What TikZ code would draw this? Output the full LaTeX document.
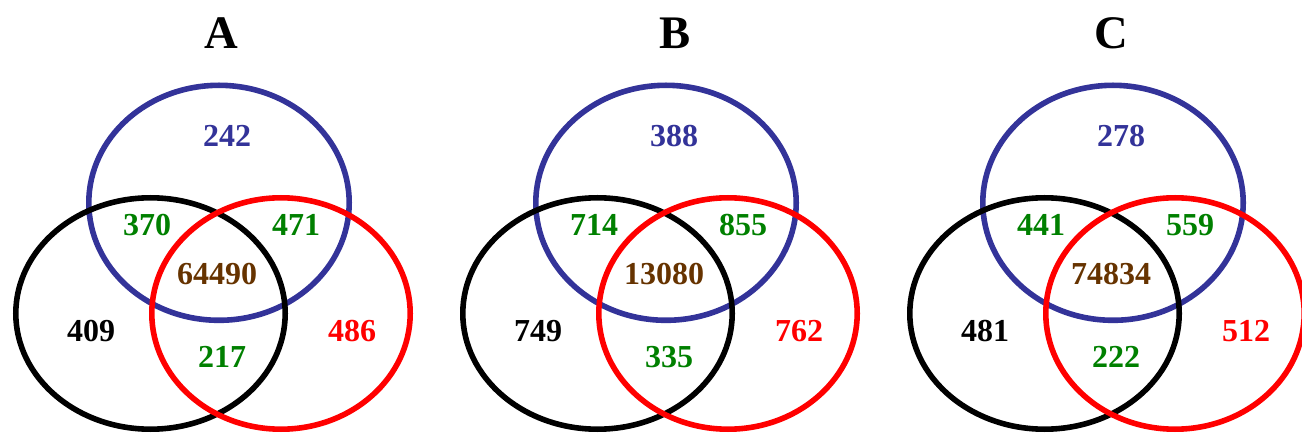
\documentclass[tikz,border=0pt]{standalone}
\usepackage{fontspec}
\setmainfont{Liberation Serif}
\definecolor{setblue}{HTML}{333399}
\definecolor{setgreen}{HTML}{008000}
\definecolor{setbrown}{HTML}{663300}
\definecolor{setred}{HTML}{FF0000}
\begin{document}
\begin{tikzpicture}[x=0.75pt,y=-0.75pt,
  ring/.style={line width=4.2pt},
  num/.style={font=\fontsize{24pt}{24pt}\selectfont\bfseries, anchor=base, inner sep=0pt},
  paneltitle/.style={font=\fontsize{35pt}{35pt}\selectfont\bfseries, anchor=base, inner sep=0pt}]
\useasboundingbox (0,0) rectangle (1302,434);

% one three-set diagram: #1 = horizontal offset, #2 = name prefix, #3..#9 = counts
\newcommand{\venntriple}[9]{%
  \begin{scope}[xshift=#1*0.75pt]
    \draw[ring, setblue]  (219,202.8) ellipse [x radius=130.2, y radius=117.5];
    \draw[ring, black]    (150.5,313.5) ellipse [x radius=134.7, y radius=115.7];
    \draw[ring, setred]   (281,313.5) ellipse [x radius=129.2, y radius=115.7];
    \node[num, setblue]  (#2top)    at (227,147) {#3};
    \node[num, setgreen] (#2tl)     at (147,236) {#4};
    \node[num, setgreen] (#2tr)     at (296,236) {#5};
    \node[num, setbrown] (#2mid)    at (217,285) {#6};
    \node[num, black]    (#2left)   at (91,342)  {#7};
    \node[num, setgreen] (#2bottom) at (222,368) {#8};
    \node[num, setred]   (#2right)  at (352,342) {#9};
  \end{scope}}

\venntriple{0}{a}{242}{370}{471}{64490}{409}{217}{486}
\venntriple{447}{b}{388}{714}{855}{13080}{749}{335}{762}
\venntriple{894}{c}{278}{441}{559}{74834}{481}{222}{512}

\node[paneltitle] (titleA) at (221,49)  {A};
\node[paneltitle] (titleB) at (675,49)  {B};
\node[paneltitle] (titleC) at (1111,49) {C};
\end{tikzpicture}
\end{document}
